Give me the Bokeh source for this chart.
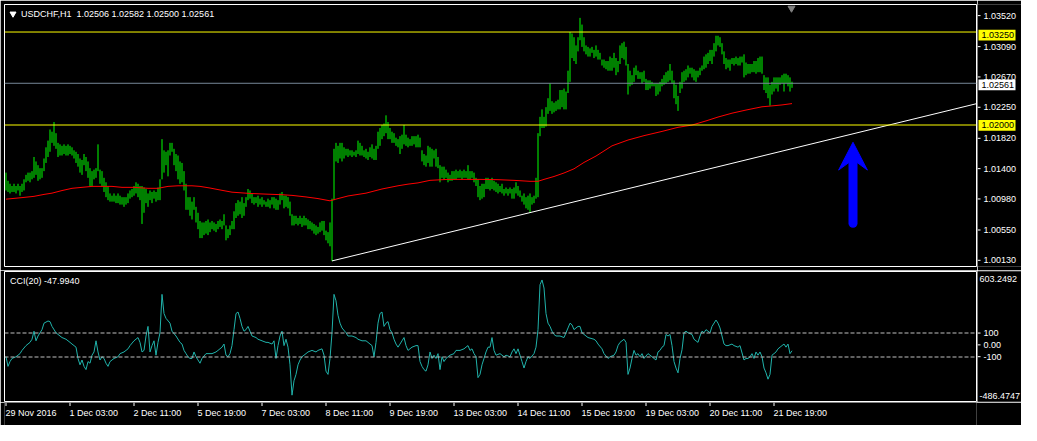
from bokeh.plotting import figure
from bokeh.layouts import column, row
from bokeh.models import Range1d, Span, Label
from bokeh.core.properties import value
from bokeh.embed import file_html
from bokeh.resources import INLINE

# ---------------- data ----------------
symbol = "USDCHF,H1"
last_open = 1.02506
last_close = 1.02561

highs = [
    1.0136, 1.0125, 1.0121, 1.0118, 1.0121, 1.0118, 1.0121, 1.0118, 1.0121, 1.0127,
    1.0133, 1.0136, 1.0136, 1.0138, 1.0157, 1.0151, 1.0146, 1.0142, 1.0142, 1.0155,
    1.0170, 1.0179, 1.0194, 1.0191, 1.0204, 1.0189, 1.0176, 1.0174, 1.0172, 1.0174,
    1.0172, 1.0174, 1.0172, 1.0170, 1.0166, 1.0164, 1.0161, 1.0155, 1.0153, 1.0161,
    1.0157, 1.0151, 1.0142, 1.0138, 1.0140, 1.0142, 1.0174, 1.0140, 1.0138, 1.0129,
    1.0123, 1.0118, 1.0108, 1.0105, 1.0108, 1.0105, 1.0108, 1.0105, 1.0103, 1.0103,
    1.0103, 1.0108, 1.0112, 1.0114, 1.0118, 1.0123, 1.0121, 1.0118, 1.0118, 1.0116,
    1.0114, 1.0108, 1.0112, 1.0110, 1.0112, 1.0110, 1.0116, 1.0127, 1.0181, 1.0166,
    1.0164, 1.0166, 1.0176, 1.0176, 1.0168, 1.0161, 1.0159, 1.0151, 1.0149, 1.0138,
    1.0121, 1.0103, 1.0103, 1.0097, 1.0103, 1.0090, 1.0082, 1.0071, 1.0069, 1.0069,
    1.0071, 1.0073, 1.0069, 1.0071, 1.0069, 1.0067, 1.0071, 1.0073, 1.0071, 1.0080,
    1.0065, 1.0060, 1.0065, 1.0071, 1.0084, 1.0095, 1.0099, 1.0097, 1.0103, 1.0095,
    1.0103, 1.0114, 1.0112, 1.0108, 1.0103, 1.0103, 1.0105, 1.0101, 1.0103, 1.0099,
    1.0097, 1.0101, 1.0099, 1.0103, 1.0103, 1.0101, 1.0099, 1.0108, 1.0110, 1.0105,
    1.0105, 1.0103, 1.0097, 1.0080, 1.0078, 1.0078, 1.0075, 1.0078, 1.0075, 1.0078,
    1.0075, 1.0073, 1.0071, 1.0069, 1.0067, 1.0065, 1.0063, 1.0069, 1.0071, 1.0071,
    1.0058, 1.0056, 1.0069, 1.0101, 1.0168, 1.0176, 1.0172, 1.0176, 1.0176, 1.0170,
    1.0168, 1.0168, 1.0166, 1.0166, 1.0164, 1.0166, 1.0179, 1.0176, 1.0172, 1.0166,
    1.0168, 1.0164, 1.0170, 1.0174, 1.0168, 1.0172, 1.0191, 1.0196, 1.0200, 1.0202,
    1.0213, 1.0204, 1.0196, 1.0191, 1.0189, 1.0183, 1.0181, 1.0185, 1.0187, 1.0200,
    1.0187, 1.0183, 1.0181, 1.0185, 1.0185, 1.0185, 1.0187, 1.0183, 1.0166, 1.0161,
    1.0159, 1.0172, 1.0170, 1.0168, 1.0166, 1.0168, 1.0157, 1.0146, 1.0144, 1.0144,
    1.0140, 1.0136, 1.0133, 1.0138, 1.0138, 1.0140, 1.0138, 1.0140, 1.0138, 1.0140,
    1.0138, 1.0146, 1.0138, 1.0138, 1.0136, 1.0129, 1.0127, 1.0118, 1.0121, 1.0121,
    1.0129, 1.0129, 1.0127, 1.0129, 1.0125, 1.0123, 1.0121, 1.0118, 1.0121, 1.0114,
    1.0116, 1.0114, 1.0116, 1.0114, 1.0116, 1.0123, 1.0118, 1.0112, 1.0105, 1.0108,
    1.0103, 1.0105, 1.0108, 1.0103, 1.0105, 1.0129, 1.0189, 1.0211, 1.0221, 1.0211,
    1.0224, 1.0236, 1.0256, 1.0232, 1.0230, 1.0232, 1.0234, 1.0247, 1.0247, 1.0249,
    1.0245, 1.0273, 1.0325, 1.0323, 1.0318, 1.0307, 1.0318, 1.0344, 1.0335, 1.0318,
    1.0307, 1.0305, 1.0303, 1.0305, 1.0301, 1.0307, 1.0301, 1.0297, 1.0288, 1.0288,
    1.0286, 1.0286, 1.0292, 1.0290, 1.0297, 1.0290, 1.0286, 1.0307, 1.0310, 1.0312,
    1.0305, 1.0282, 1.0273, 1.0267, 1.0277, 1.0280, 1.0273, 1.0271, 1.0271, 1.0273,
    1.0262, 1.0260, 1.0260, 1.0258, 1.0256, 1.0256, 1.0256, 1.0258, 1.0262, 1.0267,
    1.0271, 1.0273, 1.0282, 1.0273, 1.0260, 1.0254, 1.0239, 1.0258, 1.0271, 1.0273,
    1.0275, 1.0280, 1.0277, 1.0277, 1.0275, 1.0273, 1.0273, 1.0277, 1.0280, 1.0292,
    1.0295, 1.0297, 1.0301, 1.0301, 1.0310, 1.0320, 1.0320, 1.0318, 1.0310, 1.0299,
    1.0290, 1.0288, 1.0288, 1.0290, 1.0290, 1.0292, 1.0290, 1.0292, 1.0292, 1.0295,
    1.0284, 1.0282, 1.0282, 1.0282, 1.0286, 1.0286, 1.0290, 1.0292, 1.0292, 1.0267,
    1.0264, 1.0264, 1.0254, 1.0258, 1.0264, 1.0264, 1.0264, 1.0264, 1.0267, 1.0269,
    1.0269, 1.0267, 1.0264, 1.02582,
]

lows = [
    1.0112, 1.0110, 1.0108, 1.0110, 1.0110, 1.0108, 1.0112, 1.0105, 1.0110, 1.0112,
    1.0123, 1.0125, 1.0123, 1.0127, 1.0129, 1.0133, 1.0125, 1.0127, 1.0129, 1.0138,
    1.0149, 1.0157, 1.0164, 1.0176, 1.0172, 1.0168, 1.0157, 1.0159, 1.0159, 1.0161,
    1.0159, 1.0159, 1.0161, 1.0159, 1.0155, 1.0149, 1.0144, 1.0136, 1.0133, 1.0146,
    1.0138, 1.0129, 1.0118, 1.0118, 1.0127, 1.0129, 1.0138, 1.0121, 1.0118, 1.0110,
    1.0103, 1.0099, 1.0097, 1.0097, 1.0097, 1.0095, 1.0095, 1.0093, 1.0093, 1.0090,
    1.0093, 1.0095, 1.0101, 1.0103, 1.0105, 1.0108, 1.0103, 1.0099, 1.0067, 1.0082,
    1.0095, 1.0090, 1.0099, 1.0095, 1.0101, 1.0097, 1.0099, 1.0099, 1.0127, 1.0136,
    1.0146, 1.0131, 1.0159, 1.0164, 1.0146, 1.0138, 1.0127, 1.0121, 1.0123, 1.0112,
    1.0086, 1.0086, 1.0078, 1.0073, 1.0086, 1.0069, 1.0060, 1.0048, 1.0048, 1.0052,
    1.0054, 1.0052, 1.0056, 1.0060, 1.0058, 1.0056, 1.0060, 1.0063, 1.0060, 1.0065,
    1.0045, 1.0048, 1.0052, 1.0060, 1.0060, 1.0075, 1.0078, 1.0080, 1.0075, 1.0078,
    1.0090, 1.0099, 1.0101, 1.0095, 1.0093, 1.0095, 1.0090, 1.0093, 1.0090, 1.0093,
    1.0090, 1.0090, 1.0088, 1.0093, 1.0088, 1.0086, 1.0086, 1.0093, 1.0099, 1.0088,
    1.0090, 1.0088, 1.0078, 1.0065, 1.0065, 1.0067, 1.0065, 1.0067, 1.0063, 1.0065,
    1.0065, 1.0060, 1.0060, 1.0058, 1.0054, 1.0052, 1.0054, 1.0056, 1.0058, 1.0052,
    1.0045, 1.0041, 1.0037, 1.0017, 1.0099, 1.0151, 1.0149, 1.0155, 1.0151, 1.0155,
    1.0159, 1.0157, 1.0159, 1.0157, 1.0159, 1.0157, 1.0161, 1.0159, 1.0159, 1.0157,
    1.0155, 1.0153, 1.0157, 1.0155, 1.0153, 1.0153, 1.0168, 1.0172, 1.0181, 1.0185,
    1.0189, 1.0181, 1.0181, 1.0176, 1.0176, 1.0172, 1.0170, 1.0161, 1.0168, 1.0174,
    1.0172, 1.0170, 1.0172, 1.0172, 1.0174, 1.0170, 1.0170, 1.0170, 1.0151, 1.0146,
    1.0144, 1.0149, 1.0144, 1.0144, 1.0155, 1.0144, 1.0142, 1.0123, 1.0129, 1.0127,
    1.0129, 1.0123, 1.0125, 1.0125, 1.0127, 1.0127, 1.0129, 1.0129, 1.0127, 1.0129,
    1.0129, 1.0127, 1.0127, 1.0129, 1.0123, 1.0118, 1.0103, 1.0099, 1.0101, 1.0103,
    1.0114, 1.0114, 1.0112, 1.0114, 1.0112, 1.0110, 1.0108, 1.0110, 1.0108, 1.0105,
    1.0108, 1.0105, 1.0108, 1.0101, 1.0101, 1.0108, 1.0105, 1.0103, 1.0097, 1.0093,
    1.0088, 1.0086, 1.0082, 1.0093, 1.0095, 1.0101, 1.0103, 1.0185, 1.0196, 1.0196,
    1.0198, 1.0215, 1.0219, 1.0215, 1.0217, 1.0219, 1.0221, 1.0221, 1.0224, 1.0221,
    1.0221, 1.0243, 1.0258, 1.0290, 1.0286, 1.0282, 1.0299, 1.0314, 1.0305, 1.0299,
    1.0295, 1.0292, 1.0292, 1.0297, 1.0290, 1.0292, 1.0288, 1.0288, 1.0280, 1.0277,
    1.0275, 1.0273, 1.0273, 1.0273, 1.0277, 1.0267, 1.0271, 1.0282, 1.0290, 1.0288,
    1.0280, 1.0241, 1.0252, 1.0254, 1.0258, 1.0267, 1.0262, 1.0262, 1.0256, 1.0258,
    1.0247, 1.0247, 1.0249, 1.0252, 1.0252, 1.0239, 1.0241, 1.0245, 1.0252, 1.0254,
    1.0256, 1.0258, 1.0260, 1.0256, 1.0236, 1.0228, 1.0219, 1.0243, 1.0249, 1.0258,
    1.0260, 1.0264, 1.0269, 1.0264, 1.0260, 1.0258, 1.0264, 1.0267, 1.0273, 1.0275,
    1.0277, 1.0282, 1.0286, 1.0282, 1.0292, 1.0299, 1.0307, 1.0305, 1.0295, 1.0282,
    1.0275, 1.0277, 1.0273, 1.0282, 1.0280, 1.0282, 1.0280, 1.0280, 1.0284, 1.0264,
    1.0267, 1.0269, 1.0269, 1.0271, 1.0271, 1.0269, 1.0271, 1.0271, 1.0269, 1.0247,
    1.0243, 1.0236, 1.0226, 1.0241, 1.0245, 1.0249, 1.0245, 1.0254, 1.0256, 1.0245,
    1.0256, 1.0252, 1.0245, 1.02500,
]

# moving average (red), read at selected bars
ma_idx = [0, 8, 14, 19, 23, 28, 33, 38, 43, 48, 53, 58, 64, 71, 76, 81, 86, 93, 97,
          102, 107, 113, 122, 130, 138, 143, 150, 156, 162, 166, 171, 180, 188, 196,
          201, 206, 212, 221, 229, 237, 246, 254, 262, 266, 269, 274, 279, 284, 289, 295,
          303, 311, 319, 328, 336, 343, 350, 356, 363, 370, 378, 383, 388, 393]
ma_val = [1.01003, 1.01024, 1.01041, 1.01067, 1.01084, 1.01119, 1.01149, 1.01162, 1.01175,
          1.01175, 1.01175, 1.01162, 1.01162, 1.01149, 1.01149, 1.01175, 1.01183, 1.01183,
          1.01175, 1.01153, 1.01127, 1.01097, 1.01080, 1.01071, 1.01063, 1.01054, 1.01033,
          1.01011, 1.00981, 1.01011, 1.01046, 1.01084, 1.01140, 1.01183, 1.01205, 1.01222,
          1.01256, 1.01269, 1.01269, 1.01269, 1.01265, 1.01256, 1.01243, 1.01243, 1.01269,
          1.01308, 1.01355, 1.01411, 1.01497, 1.01583, 1.01720, 1.01798, 1.01857, 1.01914,
          1.01969, 1.01999, 1.02055, 1.02107, 1.02159, 1.02201, 1.02245, 1.02257, 1.02270,
          1.02288]

# CCI(20)
cci_pts = [
    (0, -98), (1, -178), (2, -138), (3, -112), (5, -98), (7, -72), (8, -45), (10, -5),
    (12, 22), (13, 48), (14, 115), (15, 35), (16, 75), (18, 128), (19, 182), (21, 200),
    (22, 195), (23, 155), (25, 102), (27, 75), (28, 62), (30, 48), (32, 22), (33, 8),
    (35, -18), (36, -112), (37, -165), (38, -125), (39, -178), (40, -205), (41, -138),
    (42, -152), (43, -85), (44, -58), (45, 35), (46, -58), (47, -125), (48, -98),
    (49, -112), (50, -152), (51, -178), (52, -138), (54, -112), (56, -98), (57, -72),
    (59, -58), (61, -32), (62, -5), (64, 35), (66, 62), (67, 22), (68, -58), (69, -45),
    (70, 75), (71, 155), (72, -58), (73, -5), (74, 35), (75, -85), (76, 22), (77, 102),
    (78, 422), (79, 262), (80, 222), (82, 182), (83, 115), (85, 75), (87, 22), (88, 8),
    (89, -45), (90, -72), (91, -98), (92, -112), (93, -112), (94, -58), (95, -98),
    (96, -125), (97, -152), (98, -112), (100, -72), (101, -72), (103, -72), (105, -58),
    (106, -45), (108, -18), (109, 8), (110, -85), (111, -98), (112, -72), (113, -5),
    (114, 128), (115, 262), (116, 275), (117, 222), (118, 155), (119, 115), (120, 128),
    (121, 155), (122, 115), (123, 75), (125, 62), (126, 48), (128, 35), (130, 22),
    (131, 22), (133, 8), (134, 35), (135, -112), (136, -5), (137, 75), (138, 115),
    (139, -5), (140, 48), (141, -18), (142, -165), (143, -418), (144, -298), (145, -245),
    (146, -165), (147, -125), (148, -98), (150, -72), (151, -58), (153, -45), (155, -58),
    (156, -45), (158, -32), (159, -85), (160, -218), (161, -245), (162, -112), (163, 102),
    (164, 422), (165, 368), (166, 248), (167, 182), (168, 142), (170, 102), (171, 75),
    (173, 75), (175, 62), (176, 48), (178, 35), (180, 35), (181, 22), (182, 8), (183, -5),
    (184, -98), (185, 22), (186, 182), (187, 262), (188, 275), (189, 155), (190, 182),
    (191, 195), (192, 128), (193, 102), (194, 48), (195, 8), (196, -18), (197, 8),
    (198, 35), (199, 62), (200, -5), (201, -45), (203, -18), (205, -5), (206, -5),
    (207, -138), (208, -178), (209, -205), (210, -218), (211, -165), (212, -58),
    (213, -112), (214, -85), (215, -112), (216, -72), (217, -205), (218, -98), (219, -138),
    (220, -112), (222, -85), (224, -72), (225, -45), (227, -45), (229, -32), (230, -18),
    (231, -5), (232, -45), (233, -32), (234, -72), (235, -98), (236, -272), (237, -245),
    (238, -165), (239, -112), (240, -58), (241, -18), (242, -18), (243, 62), (244, -45),
    (245, -85), (247, -72), (249, -98), (250, -85), (252, -98), (253, -58), (254, -32),
    (255, -72), (256, -32), (257, -85), (258, -138), (259, -192), (260, -138), (261, -98),
    (262, -112), (264, -72), (265, -18), (266, 128), (267, 502), (268, 542), (269, 475),
    (270, 262), (271, 182), (272, 155), (273, 115), (274, 88), (275, 75), (277, 75),
    (279, 62), (280, 102), (281, 142), (282, 182), (283, 168), (284, 128), (285, 142),
    (286, 155), (287, 155), (288, 102), (290, 75), (291, 62), (294, 48), (295, 35),
    (296, 8), (298, -32), (299, -72), (301, -112), (302, -98), (304, -85), (305, -58),
    (306, -5), (307, 22), (309, 48), (310, 22), (311, -245), (312, -192), (313, -112),
    (314, -45), (315, -85), (316, -72), (317, -98), (318, -72), (319, -112), (321, -72),
    (322, -85), (323, -98), (324, -112), (325, -125), (326, -58), (327, -45), (328, -18),
    (329, -5), (330, 88), (331, 75), (332, 88), (333, -5), (334, -138), (335, -192),
    (336, -232), (337, -112), (338, -40), (339, 102), (340, 115), (341, 102), (343, 88),
    (344, 48), (345, 35), (346, 22), (347, 75), (348, 115), (349, 102), (350, 128),
    (351, 115), (352, 102), (353, 155), (355, 208), (356, 182), (357, 142), (358, 75),
    (359, 8), (360, -5), (361, -5), (363, 8), (364, -5), (366, -18), (367, -5),
    (369, -125), (370, -112), (371, -112), (372, -98), (373, -72), (374, -112), (375, -58),
    (376, -85), (377, -58), (378, -98), (379, -192), (380, -232), (381, -285), (382, -245),
    (383, -85), (384, -72), (385, -58), (386, -32), (388, -5), (389, 8), (390, -18),
    (391, 8), (392, -72), (393, -47.994),
]
cci_idx = [a for a, b in cci_pts]
cci_val = [b for a, b in cci_pts]
cci_top_label = 603.2492
cci_bottom_label = -486.4747
cci_levels = [100, -100]
cci_ticks = [100, 0, -100]
cci_tick_labels = ["100", "0.00", "-100"]

price_ticks = [1.03520, 1.03090, 1.02670, 1.02250, 1.01820, 1.01400, 1.00980, 1.00550, 1.00130]
hlines_yellow = [1.03250, 1.02000]

# trend line (white) from the 8 Dec low, and the blue arrow
trend_x = [163, 492]
trend_y = [1.00173, 1.02331]
arrow_x = 423.5
arrow_tail = 1.00679
arrow_notch = 1.01536
arrow_barb = 1.01394
arrow_tip = 1.01768
arrow_half = 7.2

time_tick_idx = [0, 32, 64, 96, 128, 160, 192, 224, 256, 288, 320, 352, 384]
time_labels = ["29 Nov 2016", "1 Dec 03:00", "2 Dec 11:00", "5 Dec 19:00", "7 Dec 03:00",
               "8 Dec 11:00", "9 Dec 19:00", "13 Dec 03:00", "14 Dec 11:00", "15 Dec 19:00",
               "19 Dec 03:00", "20 Dec 11:00", "21 Dec 19:00"]

# ---------------- styling / layout ----------------
FONT = "Liberation Sans"
FS = "9px"
BAR_COLOR = "#00FF00"
BID_COLOR = "#778899"
CCI_COLOR = "#20B2AA"

PW = 977          # width of the chart panels
AW = 44           # width of the price-scale strip on the right
LB = 4
FW = PW - LB - 1
PX_PER_BAR = 2
x_start = -0.75
x_range = Range1d(x_start, x_start + FW / PX_PER_BAR)

H1, T1, B1 = 270, 4, 4     # main panel
H2, T2, B2 = 132, 1, 1     # CCI panel
H3 = 425 - H1 - H2         # time scale

N = len(highs)
idx = list(range(N))


def panel(height, y_range, top, bottom):
    f = figure(width=PW, height=height, x_range=x_range, y_range=y_range,
               output_backend="svg", toolbar_location=None,
               x_axis_type=None, y_axis_type=None,
               min_border_left=LB, min_border_right=1,
               min_border_top=top, min_border_bottom=bottom,
               background_fill_color="black", border_fill_color="black",
               outline_line_color="white")
    f.grid.visible = False
    return f


def scale_strip(height, y0, y1, top, bottom):
    """Right-hand price scale: same pixel mapping as its panel, spanning the full
    strip height so that labels near the edges are not cut."""
    per_px = (y1 - y0) / (height - top - bottom)
    f = figure(width=AW, height=height, x_range=Range1d(0, AW),
               y_range=Range1d(y0 - bottom * per_px, y1 + top * per_px),
               output_backend="svg", toolbar_location=None,
               x_axis_type=None, y_axis_type=None,
               min_border_left=0, min_border_right=0, min_border_top=0, min_border_bottom=0,
               background_fill_color="black", border_fill_color="black",
               outline_line_color=None)
    f.grid.visible = False
    return f, per_px


def strip_labels(f, ticks, labels, tick_marks=True, x=6):
    if tick_marks:
        f.segment(x0=[0] * len(ticks), y0=ticks, x1=[3] * len(ticks), y1=ticks,
                  line_color="white", line_width=1)
    f.text(x=[x] * len(ticks), y=ticks, text=labels, text_font=value(FONT),
           text_font_size=value(FS), text_color="white", text_align="left",
           text_baseline="middle")


# ---------------- main price panel ----------------
P_LO, P_HI = 1.00098, 1.03620
p1 = panel(H1, Range1d(P_LO, P_HI), T1, B1)

for lvl in hlines_yellow:
    p1.add_layout(Span(location=lvl, dimension="width", line_color="yellow", line_width=1))
p1.add_layout(Span(location=last_close, dimension="width", line_color=BID_COLOR, line_width=1))

p1.segment(x0=idx, y0=lows, x1=idx, y1=highs, line_color=BAR_COLOR, line_width=1)
p1.line(ma_idx, ma_val, line_color="red", line_width=1)
p1.line(trend_x, trend_y, line_color="white", line_width=1)

# blue arrow
p1.segment(x0=[arrow_x], y0=[arrow_tail], x1=[arrow_x], y1=[arrow_notch + 0.0003],
           line_color="blue", line_width=9, line_cap="round")
p1.patch([arrow_x - arrow_half, arrow_x, arrow_x + arrow_half, arrow_x],
         [arrow_barb, arrow_tip, arrow_barb, arrow_notch],
         fill_color="blue", line_color="blue")

# shift marker
p1.scatter([392.75], [1.0357], marker="inverted_triangle", size=7,
           fill_color="#808080", line_color="#808080")

# header
p1.scatter([3.5], [1.03495], marker="inverted_triangle", size=6,
           fill_color="white", line_color="white")
header = "%s\u00a0\u00a0%.5f %.5f %.5f %.5f" % (symbol, last_open, highs[-1], lows[-1], last_close)
p1.add_layout(Label(x=7.5, y=1.03495, text=header, text_color="white", text_font=FONT,
                    text_font_size=FS, text_baseline="middle", text_align="left"))

# price scale strip
a1, ppx1 = scale_strip(H1, P_LO, P_HI, T1, B1)
strip_labels(a1, price_ticks, ["%.5f" % t for t in price_ticks])
marks = [(1.03250, "yellow"), (last_close, "white"), (1.02000, "yellow")]
half_box = 5.5 * ppx1
a1.quad(left=[1] * 3, right=[38] * 3, bottom=[m[0] - half_box for m in marks],
        top=[m[0] + half_box for m in marks], fill_color=[m[1] for m in marks],
        line_color=None)
a1.text(x=[4] * 3, y=[m[0] for m in marks], text=["%.5f" % m[0] for m in marks],
        text_font=value(FONT), text_font_size=value(FS), text_color="black",
        text_align="left", text_baseline="middle")

# ---------------- CCI panel ----------------
C_LO, C_HI = -470.83, 612.5
p2 = panel(H2, Range1d(C_LO, C_HI), T2, B2)
for lvl in cci_levels:
    p2.add_layout(Span(location=lvl, dimension="width", line_color="#C0C0C0",
                       line_width=1, line_dash="4 2"))
p2.line(cci_idx, cci_val, line_color=CCI_COLOR, line_width=1)
p2.add_layout(Label(x=2, y=530, text="CCI(20) %.4f" % cci_val[-1], text_color="white",
                    text_font=FONT, text_font_size=FS, text_baseline="middle",
                    text_align="left"))

a2, ppx2 = scale_strip(H2, C_LO, C_HI, T2, B2)
strip_labels(a2, cci_ticks, cci_tick_labels)
# max / min of the indicator window, written just inside its top and bottom
strip_labels(a2, [C_HI - 7 * ppx2, C_LO + 5 * ppx2],
             ["%.4f" % cci_top_label, "%.4f" % cci_bottom_label], tick_marks=False, x=2)

# ---------------- time axis ----------------
p3 = figure(width=PW + AW, height=H3, x_range=x_range, y_range=Range1d(0, H3),
            output_backend="svg", toolbar_location=None,
            x_axis_type=None, y_axis_type=None,
            min_border_left=LB, min_border_right=AW + 1, min_border_top=0, min_border_bottom=0,
            background_fill_color="black", border_fill_color="black",
            outline_line_color=None)
p3.grid.visible = False
p3.segment(x0=time_tick_idx, y0=[H3] * len(time_tick_idx), x1=time_tick_idx,
           y1=[H3 - 3.5] * len(time_tick_idx), line_color="white", line_width=1)
p3.text(x=[t - 0.25 for t in time_tick_idx], y=[H3 - 10.5] * len(time_tick_idx),
        text=time_labels, text_font=value(FONT), text_font_size=value(FS),
        text_color="white", text_align="left", text_baseline="middle")

layout = column(row(p1, a1), row(p2, a2), p3)
open("out.html", "w").write(file_html(layout, INLINE))
